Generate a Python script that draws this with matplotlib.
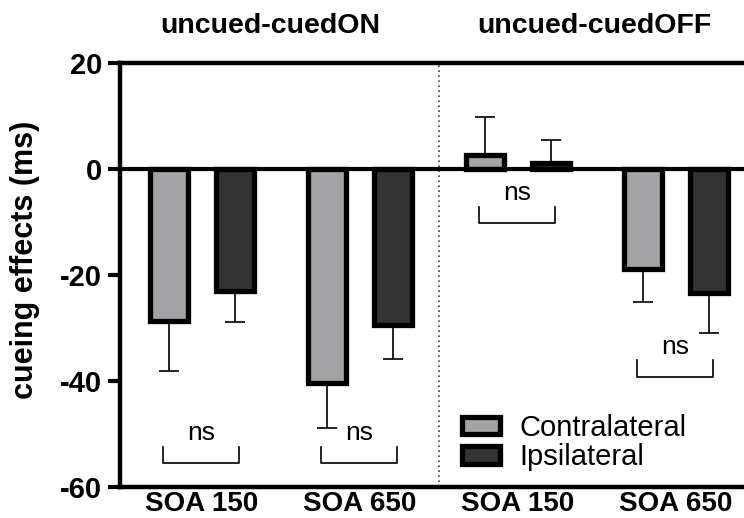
import matplotlib
matplotlib.use("Agg")
import matplotlib.pyplot as plt
from matplotlib.patches import Patch
import numpy as np

plt.rcParams["font.family"] = ["Liberation Sans", "DejaVu Sans"]
plt.rcParams["axes.unicode_minus"] = False

# data
groups = ["SOA 150", "SOA 650", "SOA 150", "SOA 650"]
panel_titles = ["uncued-cuedON", "uncued-cuedOFF"]
contra_mean = [-28.7, -40.4, 2.6, -18.8]
ipsi_mean = [-23.0, -29.4, 1.1, -23.4]
contra_err = [9.4, 8.5, 7.2, 6.3]
ipsi_err = [5.9, 6.4, 4.4, 7.6]
bracket_bottom = [-55.5, -55.5, -10.2, -39.2]
series_names = ["Contralateral", "Ipsilateral"]

contra_color = "#a3a3a6"
ipsi_color = "#333333"

fig = plt.figure(figsize=(7.44, 5.18), dpi=100)
ax = fig.add_axes([120 / 744, 31 / 518, 624 / 744, 424 / 518])

x = np.arange(len(groups))
offset = 0.21
width = 0.24


def one_sided(means, errs):
    lo = [e if m < 0 else 0 for m, e in zip(means, errs)]
    hi = [e if m >= 0 else 0 for m, e in zip(means, errs)]
    return [lo, hi]


for xs, means, errs, col in [(x - offset, contra_mean, contra_err, contra_color),
                             (x + offset, ipsi_mean, ipsi_err, ipsi_color)]:
    ax.errorbar(xs, means, yerr=one_sided(means, errs), fmt="none",
                ecolor="black", elinewidth=1.2, capsize=7.5, capthick=1.2, zorder=1)
    ax.bar(xs, means, width=width, color=col, edgecolor="black",
           linewidth=3.8, zorder=2)

# zero line and panel separator
ax.axhline(0, color="black", linewidth=3, zorder=3)
ax.axvline(1.5, color="#444444", linewidth=1.2, linestyle=(0, (1, 2)), zorder=0)

# "ns" brackets
for xc, yb in zip(x, bracket_bottom):
    xl, xr = xc - 0.25, xc + 0.235
    yt = yb + 3.1
    ax.plot([xl, xl, xr, xr], [yt, yb, yb, yt], color="black", linewidth=1.2, zorder=3)
    ax.text((xl + xr) / 2, yt + 0.3, "ns", ha="center", va="bottom", fontsize=19)

ax.set_xlim(-0.519, 3.43)
ax.set_ylim(-60, 20)
ax.set_yticks([-60, -40, -20, 0, 20])
ax.set_xticks(x)
ax.set_xticklabels(groups, fontsize=20, fontweight="bold")
ax.tick_params(axis="x", length=0, pad=3)
ax.tick_params(axis="y", direction="out", length=9, width=3, labelsize=21, pad=4)
for lab in ax.get_yticklabels():
    lab.set_fontweight("bold")

ax.spines["right"].set_visible(False)
for s in ["left", "top", "bottom"]:
    ax.spines[s].set_linewidth(3.2)

ax.set_ylabel("cueing effects (ms)", fontsize=22, fontweight="bold")
ax.yaxis.set_label_coords(-0.128, 0.535)

# panel titles
for xc, t in zip([0.43, 2.48], panel_titles):
    ax.text(xc, 1.071, t, transform=ax.get_xaxis_transform(), ha="center", va="baseline",
            fontsize=20.5, fontweight="bold")

handles = [Patch(facecolor=contra_color, edgecolor="black", linewidth=3.8),
           Patch(facecolor=ipsi_color, edgecolor="black", linewidth=3.8)]
ax.legend(handles, series_names, loc="lower left", bbox_to_anchor=(0.53, 0.01),
          frameon=False, fontsize=21, handlelength=1.3, handleheight=0.55,
          handletextpad=0.65, labelspacing=0.05, borderaxespad=0)

fig.savefig("out.png", dpi=100)
